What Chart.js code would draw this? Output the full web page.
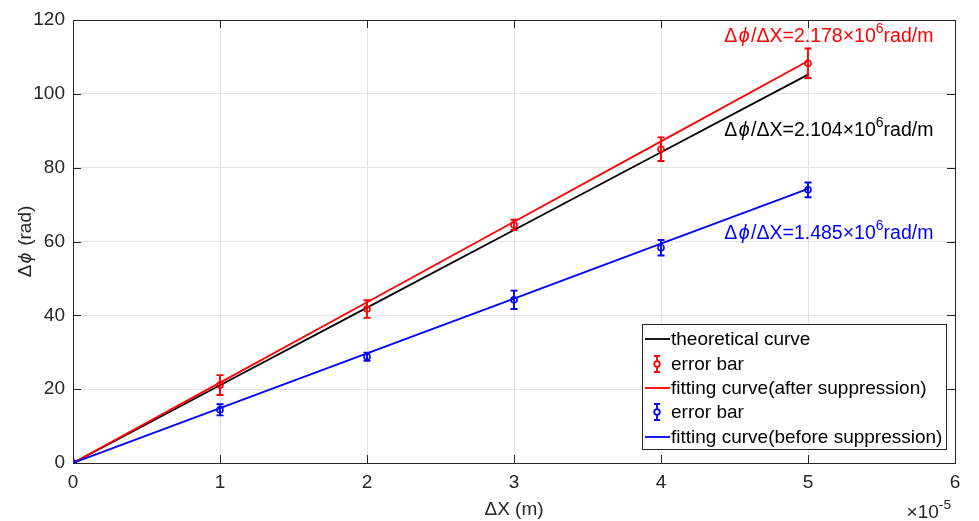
<!DOCTYPE html>
<html>
<head>
<meta charset="utf-8">
<script src="https://cdn.jsdelivr.net/npm/chart.js@4.4.0/dist/chart.umd.min.js"></script>
<style>
html,body{margin:0;padding:0;background:#fff;}
#wrap{width:979px;height:521px;}
</style>
</head>
<body>
<div id="wrap"><canvas id="c" width="979" height="521"></canvas></div>
<script>
// ---- data (x in units of 1e-5 m) ----
const xValues = [0, 1, 2, 3, 4, 5];
const theoryY = [0, 21.04, 42.08, 63.12, 84.16, 105.2];
const redFitY = [0, 21.78, 43.56, 65.34, 87.12, 108.9];
const blueFitY = [0, 14.85, 29.7, 44.55, 59.4, 74.25];
const redY = [0, 21.1, 41.7, 64.5, 85.0, 108.3];
const redErr = [0, 2.7, 2.4, 1.4, 3.2, 4.0];
const blueY = [0, 14.4, 28.8, 44.2, 58.3, 74.0];
const blueErr = [0, 1.5, 1.1, 2.5, 2.1, 2.0];
const xTicks = [0, 1, 2, 3, 4, 5, 6];
const yTicks = [0, 20, 40, 60, 80, 100, 120];
const legendLabels = ["theoretical curve", "error bar", "fitting curve(after suppression)", "error bar", "fitting curve(before suppression)"];
const slopeLabels = [
  {value: "2.178", color: "#ff0000", x: 4.43, y: 114.0},
  {value: "2.104", color: "#000000", x: 4.43, y: 88.6},
  {value: "1.485", color: "#0000ff", x: 4.43, y: 60.7}
];

const FONT = '"Liberation Sans", Arial, Helvetica, sans-serif';
const AX = '#262626';
const RED = '#ff0000', BLUE = '#0000ff', BLACK = '#000000';
const FS = 19;

function pts(ys){ return xValues.map((x,i)=>({x:x, y:ys[i]})); }

function richWidth(ctx, parts, size){
  let w = 0;
  for (const p of parts){
    const s = p.sup ? size*0.72 : size;
    ctx.font = (p.it?'italic ':'') + s + 'px ' + FONT;
    w += ctx.measureText(p.t).width + (p.pad||0);
  }
  return w;
}
function drawRich(ctx, x, y, parts, size, color){
  ctx.save();
  ctx.fillStyle = color;
  ctx.textBaseline = 'alphabetic';
  ctx.textAlign = 'left';
  let cx = x;
  for (const p of parts){
    const s = p.sup ? size*0.72 : size;
    ctx.font = (p.it?'italic ':'') + s + 'px ' + FONT;
    ctx.fillText(p.t, cx + (p.pad ? p.pad/2 : 0), p.sup ? y - size*0.45 : y);
    cx += ctx.measureText(p.t).width + (p.pad||0);
  }
  ctx.restore();
}

function drawErrorIcon(ctx, cx, cy, color){
  ctx.save();
  ctx.strokeStyle = color; ctx.lineWidth = 1.8;
  ctx.beginPath();
  ctx.moveTo(cx, cy-8); ctx.lineTo(cx, cy+8);
  ctx.moveTo(cx-3, cy-8); ctx.lineTo(cx+3, cy-8);
  ctx.moveTo(cx-3, cy+8); ctx.lineTo(cx+3, cy+8);
  ctx.stroke();
  ctx.beginPath(); ctx.arc(cx, cy, 2.8, 0, Math.PI*2);
  ctx.fillStyle = '#fff'; ctx.fill(); ctx.stroke();
  ctx.restore();
}

const decorPlugin = {
  id: 'decor',
  afterDatasetsDraw(chart){
    const ctx = chart.ctx;
    const xs = chart.scales.x, ys = chart.scales.y;
    const bars = [[redY, redErr, RED], [blueY, blueErr, BLUE]];
    for (const [vals, errs, col] of bars){
      ctx.save();
      ctx.strokeStyle = col; ctx.lineWidth = 1.9;
      xValues.forEach((xv, i) => {
        if (errs[i] <= 0) return;
        const px = xs.getPixelForValue(xv);
        const top = ys.getPixelForValue(vals[i] + errs[i]);
        const bot = ys.getPixelForValue(vals[i] - errs[i]);
        ctx.beginPath();
        ctx.moveTo(px, top); ctx.lineTo(px, bot);
        ctx.moveTo(px-3.5, top); ctx.lineTo(px+3.5, top);
        ctx.moveTo(px-3.5, bot); ctx.lineTo(px+3.5, bot);
        ctx.stroke();
      });
      ctx.restore();
    }
  },
  afterDraw(chart){
    const ctx = chart.ctx;
    const ca = chart.chartArea;
    const xs = chart.scales.x, ys = chart.scales.y;
    ctx.save();
    ctx.strokeStyle = AX; ctx.lineWidth = 1;
    ctx.beginPath();
    xTicks.forEach(v => {
      const px = Math.round(xs.getPixelForValue(v)) + 0.5;
      ctx.moveTo(px, ca.bottom); ctx.lineTo(px, ca.bottom - 8);
      ctx.moveTo(px, ca.top); ctx.lineTo(px, ca.top + 8);
    });
    yTicks.forEach(v => {
      const py = Math.round(ys.getPixelForValue(v)) + 0.5;
      ctx.moveTo(ca.left, py); ctx.lineTo(ca.left + 8, py);
      ctx.moveTo(ca.right, py); ctx.lineTo(ca.right - 8, py);
    });
    ctx.stroke();
    ctx.strokeRect(Math.round(ca.left)+0.5, Math.round(ca.top)+0.5, Math.round(ca.right-ca.left), Math.round(ca.bottom-ca.top));
    ctx.restore();

    // axis titles
    const xt = [{t:'ΔX (m)'}];
    const wx = richWidth(ctx, xt, FS);
    drawRich(ctx, (ca.left+ca.right)/2 - wx/2, 515, xt, FS, AX);
    const ex = [{t:'×10'},{t:'-5', sup:true}];
    const we = richWidth(ctx, ex, FS);
    drawRich(ctx, ca.right - we - 4, 518, ex, FS, AX);
    ctx.save();
    ctx.translate(31, (ca.top+ca.bottom)/2);
    ctx.rotate(-Math.PI/2);
    const yt = [{t:'Δ'},{t:'ϕ', it:true, pad:3},{t:' (rad)'}];
    const wy = richWidth(ctx, yt, FS);
    drawRich(ctx, -wy/2, 0, yt, FS, AX);
    ctx.restore();

    // slope annotations
    slopeLabels.forEach(s => {
      const parts = [{t:'Δ'},{t:'ϕ', it:true, pad:3},{t:'/ΔX='+s.value+'×10'},{t:'6', sup:true},{t:'rad/m'}];
      drawRich(ctx, xs.getPixelForValue(s.x), ys.getPixelForValue(s.y), parts, 19.5, s.color);
    });

    // legend
    const lx = 642, ly = 324, lw = 304, lh = 125;
    ctx.save();
    ctx.fillStyle = '#fff';
    ctx.fillRect(lx, ly, lw, lh);
    ctx.strokeStyle = '#262626'; ctx.lineWidth = 1;
    ctx.strokeRect(lx+0.5, ly+0.5, lw, lh);
    const rowY = [339, 364, 388, 412, 437];
    const kinds = [['line', BLACK], ['err', RED], ['line', RED], ['err', BLUE], ['line', BLUE]];
    kinds.forEach((k, i) => {
      const cy = rowY[i];
      if (k[0] === 'line'){
        ctx.strokeStyle = k[1]; ctx.lineWidth = 1.8;
        ctx.beginPath(); ctx.moveTo(645, cy); ctx.lineTo(670, cy); ctx.stroke();
      } else {
        drawErrorIcon(ctx, 657, cy, k[1]);
      }
      ctx.fillStyle = '#000';
      ctx.font = FS + 'px ' + FONT;
      ctx.textBaseline = 'middle';
      ctx.textAlign = 'left';
      ctx.fillText(legendLabels[i], 671, cy + 1);
    });
    ctx.restore();
  }
};

new Chart(document.getElementById('c'), {
  type: 'scatter',
  data: {
    datasets: [
      {label: legendLabels[0], data: pts(theoryY), showLine: true, borderColor: BLACK, borderWidth: 1.8, pointRadius: 0, order: 5},
      {label: legendLabels[1], data: pts(redY), showLine: false, borderColor: RED, backgroundColor: 'rgba(255,255,255,0)', borderWidth: 1.6, pointRadius: 3, order: 4},
      {label: legendLabels[2], data: pts(redFitY), showLine: true, borderColor: RED, borderWidth: 1.8, pointRadius: 0, order: 3},
      {label: legendLabels[3], data: pts(blueY), showLine: false, borderColor: BLUE, backgroundColor: 'rgba(255,255,255,0)', borderWidth: 1.6, pointRadius: 3, order: 2},
      {label: legendLabels[4], data: pts(blueFitY), showLine: true, borderColor: BLUE, borderWidth: 1.8, pointRadius: 0, order: 1}
    ]
  },
  options: {
    responsive: false,
    animation: false,
    events: [],
    layout: {padding: {left: 0, right: 24, top: 20, bottom: 0}},
    plugins: {legend: {display: false}, tooltip: {enabled: false}},
    scales: {
      x: {
        type: 'linear', min: 0, max: 6,
        afterFit(s){ s.height = 58; },
        afterBuildTicks(s){ s.ticks = xTicks.map(v => ({value: v})); },
        grid: {color: '#e3e3e3', drawTicks: false, lineWidth: 1},
        border: {display: false},
        ticks: {color: AX, font: {family: FONT, size: FS}, padding: 8, maxRotation: 0}
      },
      y: {
        type: 'linear', min: 0, max: 120,
        afterFit(s){ s.width = 73; },
        afterBuildTicks(s){ s.ticks = yTicks.map(v => ({value: v})); },
        grid: {color: '#e3e3e3', drawTicks: false, lineWidth: 1},
        border: {display: false},
        ticks: {color: AX, font: {family: FONT, size: FS}, padding: 8}
      }
    }
  },
  plugins: [decorPlugin]
});
</script>
</body>
</html>
